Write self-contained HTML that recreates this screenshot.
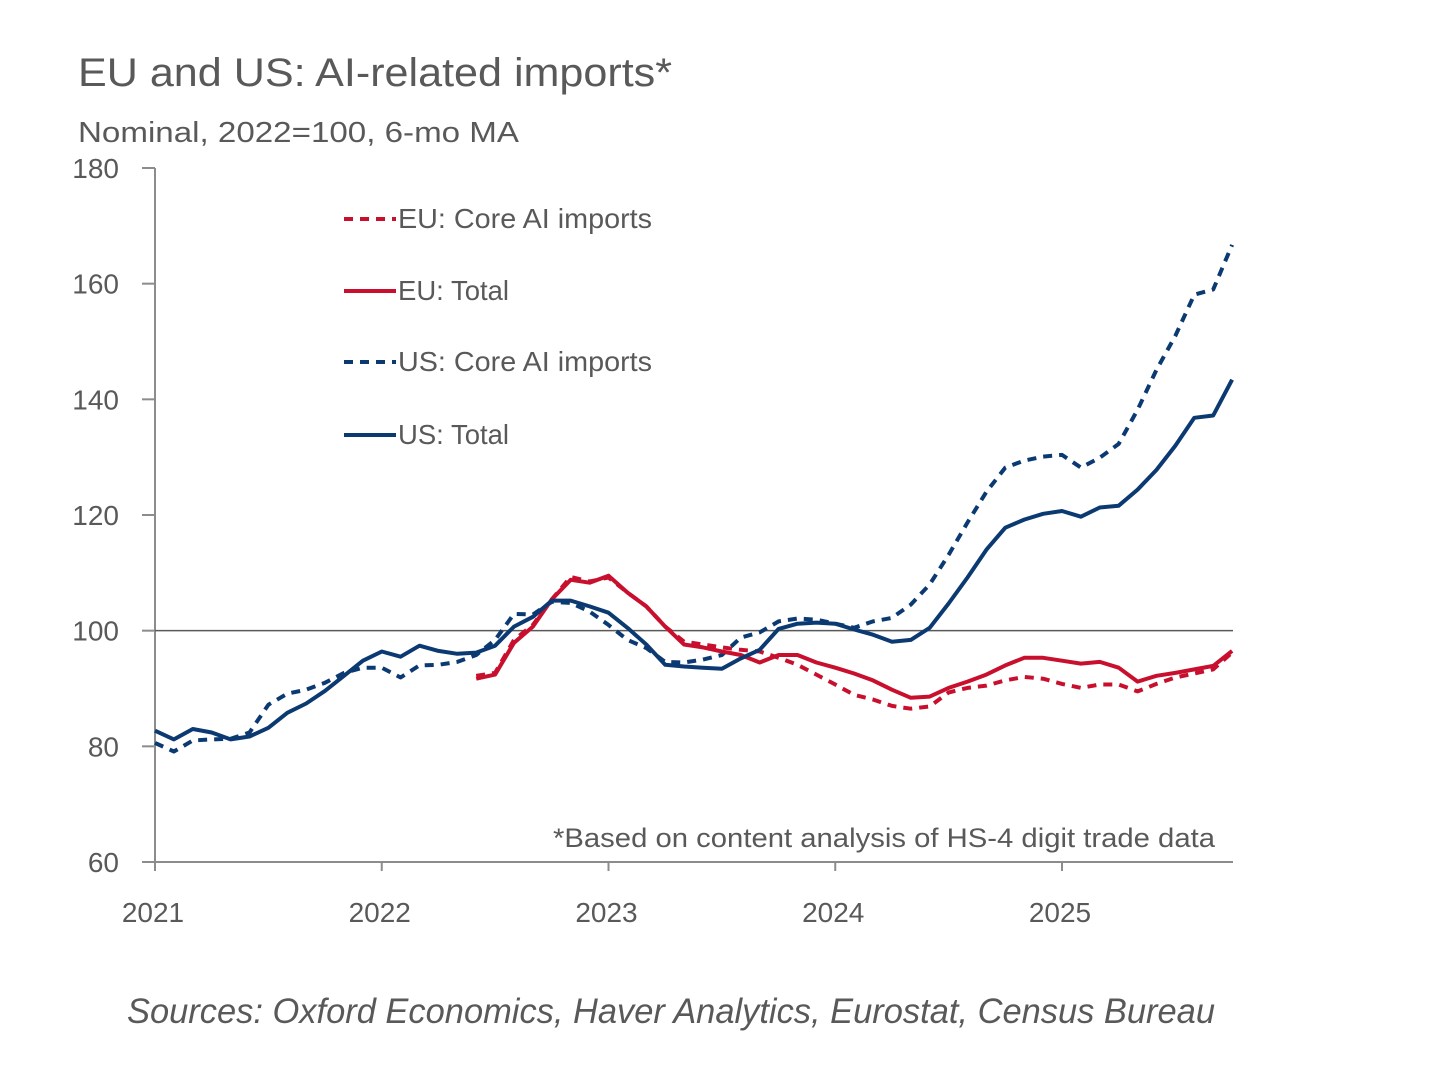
<!DOCTYPE html>
<html><head><meta charset="utf-8"><style>
body{margin:0;background:#fff;}
svg text{font-family:"Liberation Sans",sans-serif;fill:#595959;}
</style></head><body>
<svg width="1456" height="1072" xmlns="http://www.w3.org/2000/svg">
<text x="78" y="86" font-size="40" textLength="594" lengthAdjust="spacingAndGlyphs">EU and US: AI-related imports*</text>
<text x="78" y="142" font-size="29" textLength="441" lengthAdjust="spacingAndGlyphs">Nominal, 2022=100, 6-mo MA</text>
<g id="axes"></g>
<g id="series"></g>
<g id="legend"></g>
<text x="553" y="847" font-size="27" textLength="662" lengthAdjust="spacingAndGlyphs">*Based on content analysis of HS-4 digit trade data</text>
<text x="127" y="1023" font-size="35" font-style="italic" textLength="1088" lengthAdjust="spacingAndGlyphs">Sources: Oxford Economics, Haver Analytics, Eurostat, Census Bureau</text>
</svg>
<script>
const yTicks=[60,80,100,120,140,160,180];
const xYears=["2021","2022","2023","2024","2025"];
const usTotal=[82.7,81.2,83.0,82.4,81.2,81.7,83.2,85.8,87.4,89.6,92.2,94.8,96.4,95.5,97.4,96.5,96.0,96.2,97.4,100.7,102.4,105.2,105.2,104.2,103.1,100.5,97.6,94.1,93.8,93.6,93.4,95.2,96.7,100.3,101.2,101.4,101.2,100.2,99.3,98.1,98.4,100.5,104.7,109.2,114.0,117.8,119.2,120.2,120.7,119.7,121.3,121.6,124.4,127.8,132.0,136.8,137.2,143.4];
const usCore=[80.6,79.1,81,81.2,81.3,82.4,87.2,89.1,89.8,91,92.7,93.6,93.6,91.9,94,94.1,94.6,95.8,98.4,102.9,102.8,105,104.8,103.3,101,98.4,97,94.6,94.5,95,95.8,98.8,99.7,101.6,102.1,101.9,101.2,100.5,101.6,102.2,104.5,108,113.1,118.7,124,128.2,129.4,130.1,130.4,128.2,129.9,132.3,138.2,145.1,151,158.1,159,166.7];
const euStart=17;
const euTotal=[91.7,92.4,97.9,100.7,105.4,108.8,108.3,109.5,106.6,104.2,100.7,97.6,97.1,96.4,95.8,94.5,95.8,95.8,94.5,93.6,92.6,91.4,89.8,88.4,88.6,90.1,91.2,92.4,94,95.3,95.3,94.8,94.3,94.6,93.6,91.2,92.2,92.7,93.3,93.9,96.5];
const euCore=[92.2,92.7,98.4,101,105.4,109.3,108.5,109.2,106.6,104.2,100.7,98.1,97.6,97.1,96.7,96.4,95.3,94.1,92.4,90.7,88.9,88.1,87,86.5,86.9,89.3,90.1,90.5,91.4,92,91.7,90.8,90.1,90.7,90.7,89.5,90.8,91.9,92.6,93.3,96.2];

const NS="http://www.w3.org/2000/svg";
const X0=155,X1=1233,Y0=862,Y1=168;
const xs=i=>X0+i*(1062-155)/48;
const ys=v=>Y0-(v-60)/120*(Y0-Y1);
function mk(tag,attrs,parent,txt){const e=document.createElementNS(NS,tag);for(const k in attrs)e.setAttribute(k,attrs[k]);if(txt!==undefined)e.textContent=txt;parent.appendChild(e);return e;}
const ax=document.getElementById('axes');
let e=mk('line',{x1:X0,y1:Y1,x2:X0,y2:Y0,stroke:'#8c8c8c','stroke-width':2},ax);


e=mk('line',{x1:X0,y1:Y0,x2:X1,y2:Y0,stroke:'#8c8c8c','stroke-width':2},ax);


yTicks.forEach(v=>{
  mk('line',{x1:X0-13,y1:ys(v),x2:X0,y2:ys(v),stroke:'#8c8c8c','stroke-width':2},ax);
  const t=mk('text',{x:119,y:ys(v)+10,'font-size':28,'text-anchor':'end'},ax,String(v));
  
  
});
xYears.forEach((y,k)=>{
  const x=xs(k*12);
  mk('line',{x1:x,y1:Y0,x2:x,y2:Y0+9,stroke:'#8c8c8c','stroke-width':2},ax);
  const t=mk('text',{x:x-2,y:922,'font-size':28,'text-anchor':'middle'},ax,y);
  
  
});
e=mk('line',{x1:X0,y1:ys(100),x2:X1,y2:ys(100),stroke:'#595959','stroke-width':1.5},ax);


const sg=document.getElementById('series');
function line(arr,start,color,dash,name){
  const pts=arr.map((v,i)=>xs(i+start).toFixed(1)+','+ys(v).toFixed(1)).join(' ');
  const p=mk('polyline',{points:pts,fill:'none',stroke:color,'stroke-width':4,'stroke-linejoin':'round'},sg);
  if(dash)p.setAttribute('stroke-dasharray','9,7');
  
  
}
line(euCore,euStart,'#c8102e',true,'eu-core-line');
line(usCore,0,'#0b3a72',true,'us-core-line');
line(euTotal,euStart,'#c8102e',false,'eu-total-line');
line(usTotal,0,'#0b3a72',false,'us-total-line');
const lg=document.getElementById('legend');
const items=[["EU: Core AI imports",'#c8102e',true,219,254],["EU: Total",'#c8102e',false,291,111],["US: Core AI imports",'#0b3a72',true,362,254],["US: Total",'#0b3a72',false,435,111]];
items.forEach(it=>{
  const g=mk('g',{},lg);
  
  
  const l=mk('line',{x1:344,y1:it[3],x2:396,y2:it[3],stroke:it[1],'stroke-width':4},g);
  if(it[2])l.setAttribute('stroke-dasharray','9,7');
  mk('text',{x:398,y:it[3]+9,'font-size':28,textLength:it[4],lengthAdjust:'spacingAndGlyphs'},g,it[0]);
});
</script>
</body></html>
